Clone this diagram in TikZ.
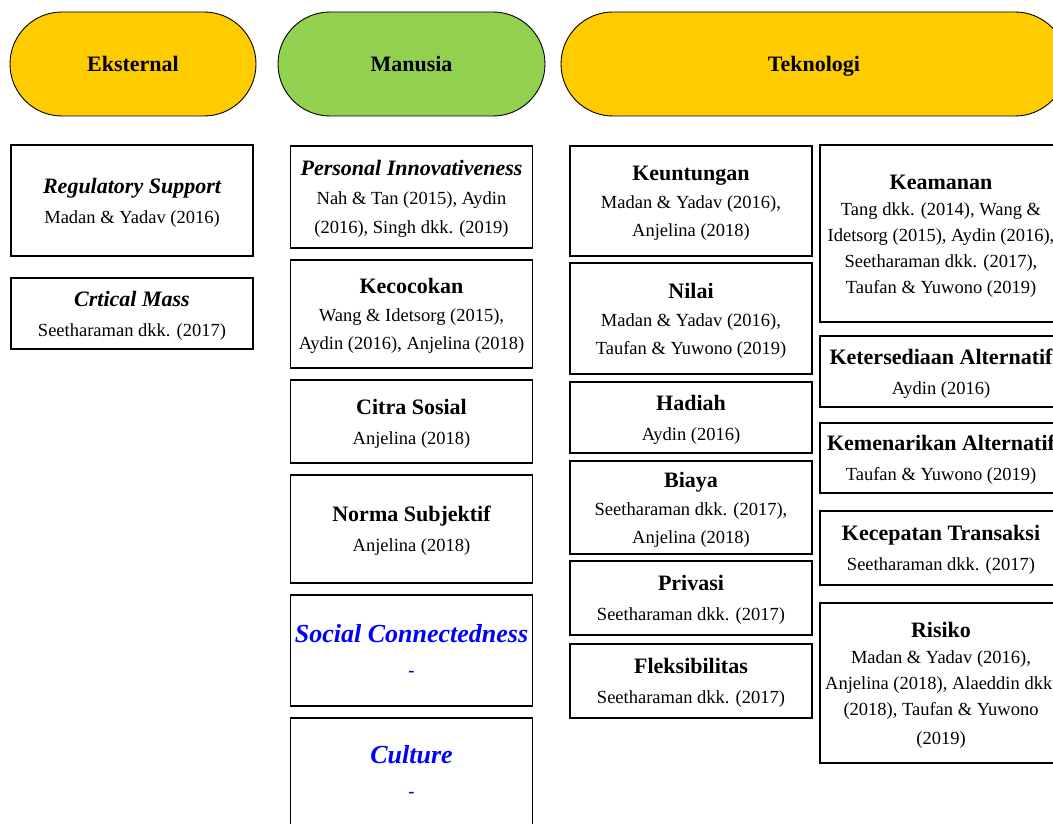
\documentclass[tikz,border=0pt]{standalone}
\usepackage{fontspec}
\setmainfont{Liberation Serif}
\definecolor{gold}{HTML}{FFCC00}
\definecolor{lgreen}{HTML}{92D050}
\newcommand{\boxhead}[1]{{\fontsize{22}{30}\selectfont\bfseries\rule{0pt}{19pt}#1}}
\newcommand{\boxheadit}[1]{{\fontsize{22}{30}\selectfont\bfseries\itshape\rule{0pt}{19pt}#1}}
\newcommand{\boxheadblue}[1]{{\fontsize{26}{30}\selectfont\bfseries\itshape\color{blue} #1}}
\newcommand{\bluedash}{{\bfseries\color{blue}-}}
\tikzset{
  pill/.style={draw=black, line width=0.9pt, rounded corners=52pt, minimum height=104pt,
    inner sep=0pt, text height=15pt, text depth=0pt, font=\fontsize{22}{26}\selectfont\bfseries},
  factor/.style={draw=black, line width=1.2pt, fill=white, minimum width=242pt,
    align=center, inner sep=0pt, font=\fontsize{18.5}{30}\selectfont},
  lead26/.style={font=\fontsize{18.5}{26}\selectfont},
  lead28/.style={font=\fontsize{18.5}{28}\selectfont},
  lead29/.style={font=\fontsize{18.5}{29}\selectfont},
  lead34/.style={font=\fontsize{18.5}{34}\selectfont},
}
\begin{document}
\begin{tikzpicture}[x=1pt,y=-1pt]
\useasboundingbox (0,0) rectangle (1053,824);
\clip (0,0) rectangle (1053,824);
\fill[white] (0,0) rectangle (1053,824);

% category pills
\node[pill, fill=gold,   minimum width=246pt] (eks) at (133,64) {Eksternal};
\node[pill, fill=lgreen, minimum width=267pt] (man) at (411.5,64) {Manusia};
\node[pill, fill=gold,   minimum width=506pt] (tek) at (814,64) {Teknologi};

% Eksternal
\node[factor, minimum height=111pt] (reg) at (132,200.5)
  {\boxheadit{Regulatory Support}\\Madan \& Yadav (2016)};
\node[factor, minimum height=71pt] (crit) at (132,313.5)
  {\boxheadit{Crtical Mass}\\Seetharaman dkk. (2017)};

% Manusia
\node[factor, lead29, minimum height=102pt] (pi) at (411.5,197)
  {\boxheadit{Personal Innovativeness}\\Nah \& Tan (2015), Aydin\\(2016), Singh dkk. (2019)};
\node[factor, lead28, minimum height=108pt] (kec) at (411.5,314)
  {\boxhead{Kecocokan}\\Wang \& Idetsorg (2015),\\Aydin (2016), Anjelina (2018)};
\node[factor, minimum height=83pt] (cit) at (411.5,421.5)
  {\boxhead{Citra Sosial}\\Anjelina (2018)};
\node[factor, minimum height=108pt] (nor) at (411.5,529)
  {\boxhead{Norma Subjektif}\\Anjelina (2018)};
\node[factor, lead34, minimum height=111pt] (soc) at (411.5,650.5)
  {\boxheadblue{Social Connectedness}\\\bluedash};
\node[factor, lead34, minimum height=111pt] (cul) at (411.5,773.5)
  {\boxheadblue{Culture}\\\bluedash\rule[-5pt]{0pt}{5pt}};

% Teknologi, first column
\node[factor, lead28, minimum height=110pt] (keu) at (691,201)
  {\boxhead{Keuntungan}\\Madan \& Yadav (2016),\\Anjelina (2018)};
\node[factor, lead28, minimum height=111pt] (nil) at (691,318.5)
  {\boxhead{Nilai}\\Madan \& Yadav (2016),\\Taufan \& Yuwono (2019)};
\node[factor, minimum height=71pt] (had) at (691,417.5)
  {\boxhead{Hadiah}\\Aydin (2016)};
\node[factor, lead28, minimum height=93pt] (bia) at (691,507.5)
  {\boxhead{Biaya}\\Seetharaman dkk. (2017),\\Anjelina (2018)};
\node[factor, minimum height=74pt] (pri) at (691,598)
  {\boxhead{Privasi}\\Seetharaman dkk. (2017)};
\node[factor, minimum height=74pt] (fle) at (691,681)
  {\boxhead{Fleksibilitas}\\Seetharaman dkk. (2017)};

% Teknologi, second column
\node[factor, lead26, minimum height=177pt] (kea) at (941,233.5)
  {\boxhead{Keamanan}\\Tang dkk. (2014), Wang \&\\Idetsorg (2015), Aydin (2016),\\Seetharaman dkk. (2017),\\Taufan \& Yuwono (2019)};
\node[factor, minimum height=71pt] (ket) at (941,371.5)
  {\boxhead{Ketersediaan Alternatif}\\Aydin (2016)};
\node[factor, minimum height=70pt] (kem) at (941,458)
  {\boxhead{Kemenarikan Alternatif}\\Taufan \& Yuwono (2019)};
\node[factor, minimum height=74pt] (kcp) at (941,548)
  {\boxhead{Kecepatan Transaksi}\\Seetharaman dkk. (2017)};
\node[factor, lead26, minimum height=160pt] (ris) at (941,683)
  {\boxhead{Risiko}\\Madan \& Yadav (2016),\\Anjelina (2018), Alaeddin dkk.\\(2018), Taufan \& Yuwono\\[3pt](2019)};
\end{tikzpicture}
\end{document}
